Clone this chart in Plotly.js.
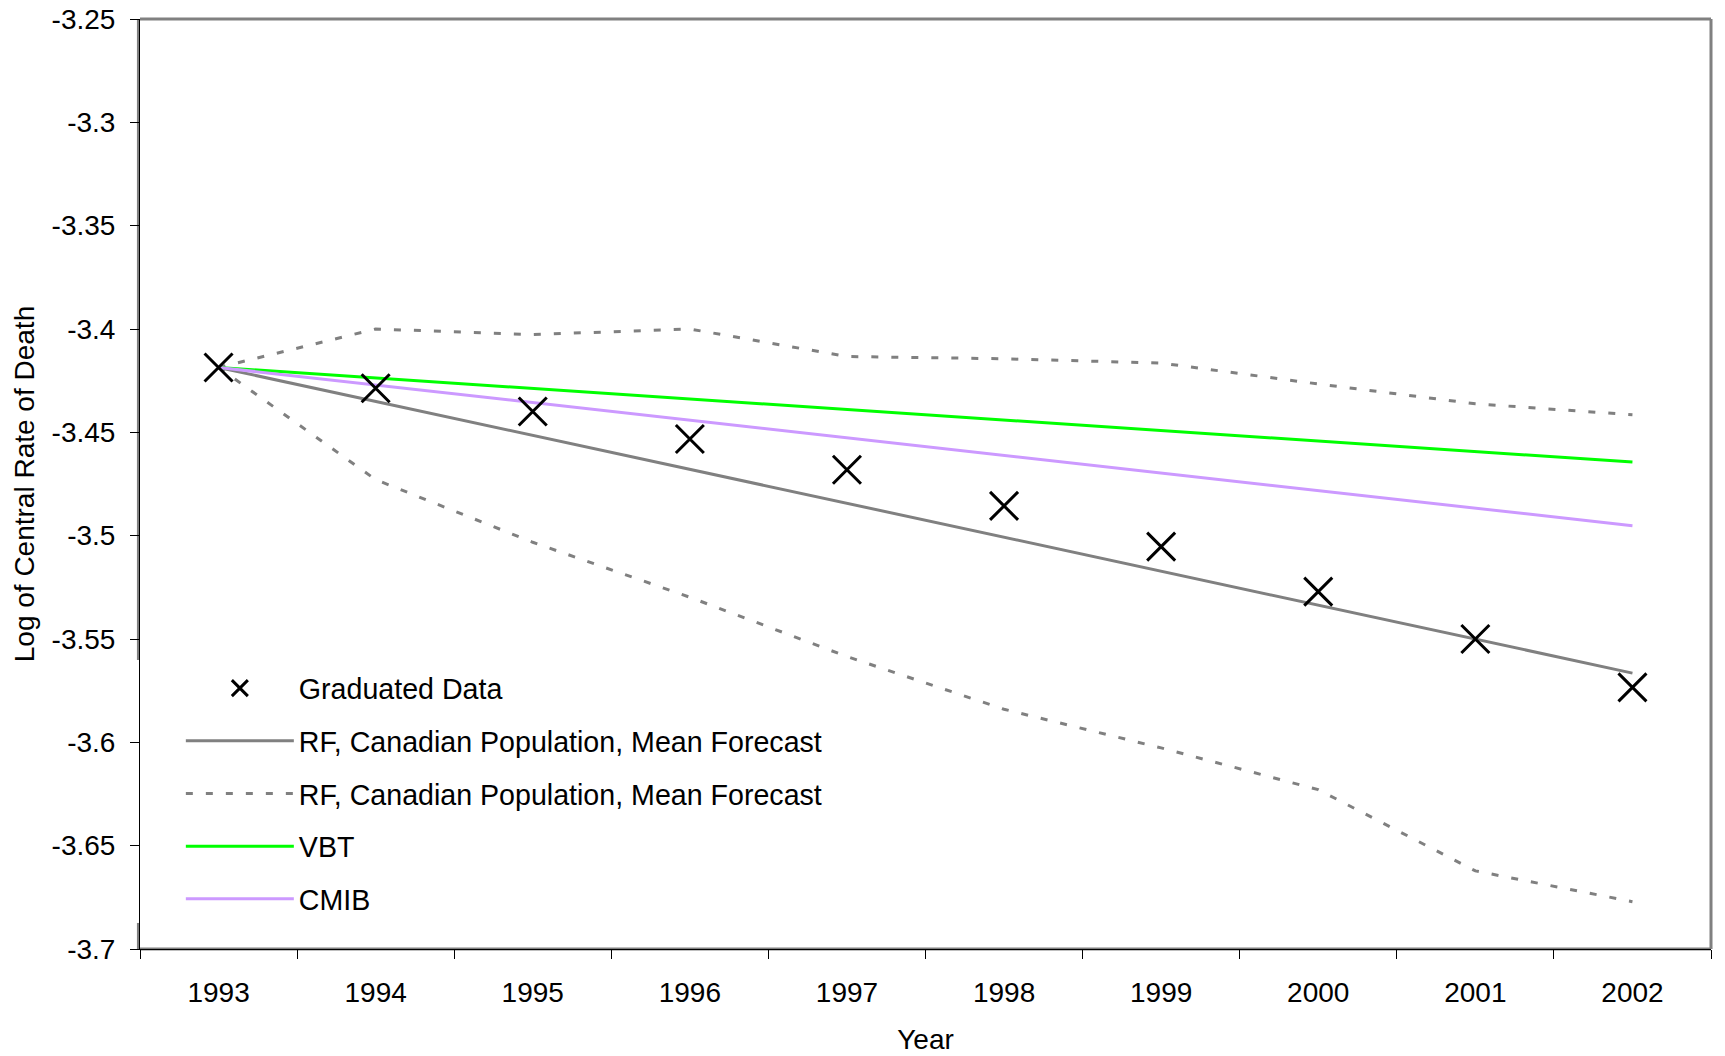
<!DOCTYPE html>
<html>
<head>
<meta charset="utf-8">
<script src="https://cdn.plot.ly/plotly-3.0.1.min.js"></script>
<style>
  html, body { margin: 0; padding: 0; background: #ffffff; }
  #chart { width: 1725px; height: 1056px; }
</style>
</head>
<body>
<div id="chart"></div>
<script>
// ---- data ----
const years = ["1993", "1994", "1995", "1996", "1997", "1998", "1999", "2000", "2001", "2002"];
const graduatedData = [-3.4186, -3.4287, -3.4399, -3.4532, -3.4681, -3.4856, -3.5053, -3.5271, -3.5500, -3.5734];
const rfMeanForecast = [-3.4186, -3.4350, -3.4515, -3.4679, -3.4843, -3.5008, -3.5172, -3.5337, -3.5501, -3.5665];
const rfUpperBound = [-3.4186, -3.4000, -3.4027, -3.4000, -3.4133, -3.4144, -3.4165, -3.4266, -3.4362, -3.4415];
const rfLowerBound = [-3.4186, -3.4729, -3.5032, -3.5298, -3.5585, -3.5840, -3.6027, -3.6229, -3.6622, -3.6771];
const vbt = [-3.4186, -3.4237, -3.4288, -3.4339, -3.4390, -3.4441, -3.4492, -3.4543, -3.4593, -3.4644];
const cmib = [-3.4186, -3.4271, -3.4356, -3.4441, -3.4526, -3.4612, -3.4697, -3.4782, -3.4867, -3.4952];
const yTickVals = [-3.7, -3.65, -3.6, -3.55, -3.5, -3.45, -3.4, -3.35, -3.3, -3.25];
const yTickText = ["-3.7", "-3.65", "-3.6", "-3.55", "-3.5", "-3.45", "-3.4", "-3.35", "-3.3", "-3.25"];
const seriesNames = ["Graduated Data", "RF, Canadian Population, Mean Forecast", "RF, Canadian Population, Mean Forecast", "VBT", "CMIB"];

const FONT = "Liberation Sans, Arial, sans-serif";
const GREY = "#808080";
const DASH = "7px,13px";

const traces = [
  { x: years, y: rfUpperBound, type: "scatter", mode: "lines", name: seriesNames[2],
    line: { color: GREY, width: 3, dash: DASH }, legendgroup: "g3", legendrank: 3 },
  { x: years, y: rfLowerBound, type: "scatter", mode: "lines", name: seriesNames[2],
    line: { color: GREY, width: 3, dash: DASH }, legendgroup: "g3", legendrank: 3, showlegend: false },
  { x: years, y: rfMeanForecast, type: "scatter", mode: "lines", name: seriesNames[1],
    line: { color: GREY, width: 3 }, legendgroup: "g2", legendrank: 2 },
  { x: years, y: vbt, type: "scatter", mode: "lines", name: seriesNames[3],
    line: { color: "#00ff00", width: 3 }, legendgroup: "g4", legendrank: 4 },
  { x: years, y: cmib, type: "scatter", mode: "lines", name: seriesNames[4],
    line: { color: "#cc99ff", width: 3 }, legendgroup: "g5", legendrank: 5 },
  { x: years, y: graduatedData, type: "scatter", mode: "markers", name: seriesNames[0],
    marker: { symbol: "x-thin-open", size: 28, color: "#000000", line: { color: "#000000", width: 3 } },
    legendgroup: "g1", legendrank: 1 }
];

const layout = {
  width: 1725, height: 1056,
  margin: { l: 140, r: 14, t: 19, b: 107, pad: 0 },
  paper_bgcolor: "#ffffff", plot_bgcolor: "#ffffff",
  font: { family: FONT, size: 28, color: "#000000" },
  showlegend: true,
  legend: {
    x: 0.026, y: 0.3075, xanchor: "left", yanchor: "top",
    bgcolor: "rgba(0,0,0,0)", borderwidth: 0,
    font: { family: FONT, size: 28.6, color: "#000000" },
    traceorder: "grouped", tracegroupgap: 12.5, itemwidth: 108
  },
  xaxis: {
    type: "category", range: [-0.5, 9.5], tickson: "boundaries",
    showgrid: false, zeroline: false, showline: true, linecolor: "#000000", linewidth: 1,
    ticks: "outside", ticklen: 9, tickwidth: 1, tickcolor: "#000000",
    ticklabelstandoff: 18,
    tickfont: { family: FONT, size: 28, color: "#000000" },
    title: { text: "Year", font: { family: FONT, size: 28, color: "#000000" }, standoff: 22 },
    fixedrange: true
  },
  yaxis: {
    range: [-3.7, -3.25], tickvals: yTickVals, ticktext: yTickText,
    showgrid: false, zeroline: false, showline: true, linecolor: "#000000", linewidth: 1,
    ticks: "outside", ticklen: 9, tickwidth: 1, tickcolor: "#000000",
    ticklabelstandoff: 9,
    tickfont: { family: FONT, size: 28, color: "#000000" },
    title: { text: "Log of Central Rate of Death", font: { family: FONT, size: 28, color: "#000000" }, standoff: 8 },
    fixedrange: true
  },
  shapes: [
    // grey plot-area frame (left side interrupted where the legend sits)
    { type: "line", xref: "paper", yref: "paper", x0: 0, x1: 1, y0: 1, y1: 1, line: { color: GREY, width: 3 }, layer: "below" },
    { type: "line", xref: "paper", yref: "paper", x0: 1, x1: 1, y0: 0, y1: 1, line: { color: GREY, width: 3 }, layer: "below" },
    { type: "line", xref: "paper", yref: "paper", x0: 0, x1: 1, y0: 0, y1: 0, line: { color: GREY, width: 3 }, layer: "below" },
    { type: "line", xref: "paper", yref: "paper", x0: -0.001, x1: -0.001, y0: 0.3108, y1: 1, line: { color: GREY, width: 3 }, layer: "below" },
    { type: "line", xref: "paper", yref: "paper", x0: -0.001, x1: -0.001, y0: 0, y1: 0.028, line: { color: GREY, width: 3 }, layer: "below" }
  ]
};

Plotly.newPlot("chart", traces, layout, { displayModeBar: false, staticPlot: true });
</script>
</body>
</html>
